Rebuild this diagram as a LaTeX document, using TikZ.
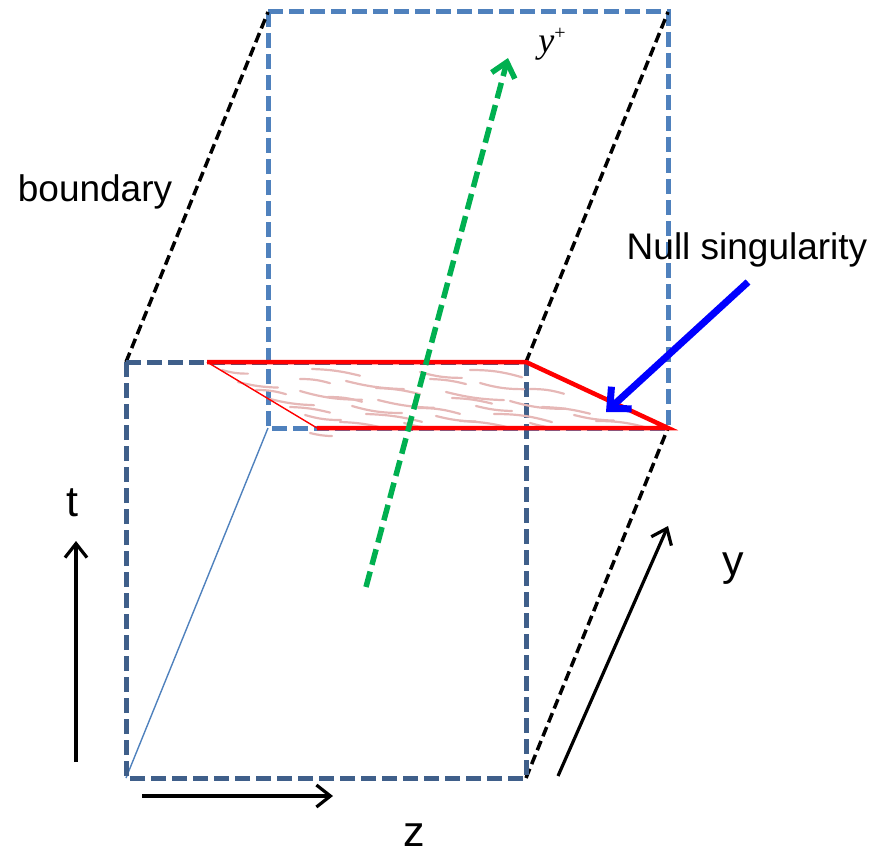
\documentclass[tikz,border=0pt]{standalone}
\usepackage{fontspec}
\setmainfont{Liberation Sans}
\newfontfamily\timesfont{Liberation Serif}
\usetikzlibrary{arrows.meta}

\definecolor{frontblue}{RGB}{63,95,138}
\definecolor{backblue}{RGB}{79,129,189}
\definecolor{nullred}{RGB}{255,0,0}
\definecolor{raygreen}{RGB}{0,176,80}
\definecolor{pointblue}{RGB}{0,0,255}
\definecolor{scribblepink}{RGB}{230,184,183}

\begin{document}
\begin{tikzpicture}[
    x=1pt, y=-1pt,
    lbl/.style    ={font=\fontsize{37}{42}\selectfont, inner sep=0pt},
    axlbl/.style  ={font=\fontsize{43}{48}\selectfont, inner sep=0pt},
    frontedge/.style={draw=frontblue, line width=5pt, dash pattern=on 15pt off 6pt},
    backedge/.style ={draw=backblue,  line width=5pt, dash pattern=on 15pt off 6pt},
    sideedge/.style ={draw=black, line width=3.5pt, dash pattern=on 10pt off 5pt},
    rededge/.style  ={draw=nullred, line width=4.5pt},
    scribble/.style ={draw=scribblepink, line width=2.2pt, line cap=round},
    axisarr/.style  ={-{Straight Barb[length=14pt,width=22pt]}, line width=3.2pt},
]
\useasboundingbox (0,0) rectangle (888,853);

% =========================================================
% Box corners: front face, back face, null plane
% =========================================================
\coordinate (F1) at (126,362);
\coordinate (F2) at (526,362);
\coordinate (F3) at (526,778);
\coordinate (F4) at (126,778);
\coordinate (B1) at (268,12);
\coordinate (B2) at (668,12);
\coordinate (B3) at (668,428);
\coordinate (B4) at (268,428);
\coordinate (P1) at (207,362);
\coordinate (P4) at (317,428);

% back face
\draw[backedge] (B1) -- (B2) -- (B3) -- (B4) -- cycle;

% side edges
\draw[sideedge] (F1) -- (B1);
\draw[sideedge] (F2) -- (B2);
\draw[sideedge] (F3) -- (B3);
\draw[draw=backblue, line width=1.4pt] (F4) -- (B4);

% front face
\draw[frontedge] (F1) -- (F2) -- (F3) -- (F4) -- cycle;

% =========================================================
% Null plane (hand-drawn shading)
% =========================================================
\foreach \sx/\sy/\sl/\bd in {
    222/370/26/8, 312/369/48/-6, 420/372/42/8, 470/370/52/-8,
    238/382/40/6, 300/379/30/-8, 346/381/58/6, 430/379/36/-6, 480/383/44/8,
    256/390/30/-8, 300/391/62/8, 376/388/44/-6, 446/392/58/6, 530/389/34/-8,
    270/399/44/6, 328/397/34/-8, 378/400/56/6, 452/398/40/-6, 510/401/56/8,
    290/407/40/-6, 352/406/50/8, 418/408/42/-8, 476/406/36/6, 542/407/48/-6,
    305/415/36/8, 366/414/56/-6, 436/416/40/6, 494/414/58/-8, 574/415/40/6,
    340/422/44/-6, 404/423/36/8, 460/421/52/-6, 530/423/42/8, 596/421/54/-8,
    310/433/22/6}
  \draw[scribble] (\sx,\sy) to[bend right=\bd] ++(\sl,0.14*\sl);

\draw[rededge] (P1) -- (F2) -- (B3) -- (P4);
\draw[draw=nullred, line width=1.4pt] (P1) -- (P4);

% =========================================================
% Light ray y^+ and labels
% =========================================================
\coordinate (G0) at (366,587);
\coordinate (G1) at (508,58);
\draw[draw=raygreen, line width=5.5pt, dash pattern=on 16pt off 7pt,
      -{Straight Barb[length=14pt,width=24pt]}] (G0) -- (G1);
\node[inner sep=0pt, font=\fontsize{36}{38}\selectfont\timesfont] (yplus) at (552,44)
    {\textit{y}\raisebox{13pt}{\fontsize{20}{22}\selectfont +}};

\node[lbl] (bnd)  at (95,192)  {boundary};
\node[lbl] (nsng) at (747,250) {Null singularity};

\coordinate (N0) at (748,282);
\coordinate (N1) at (606,412);
\draw[draw=pointblue, line width=7pt, -{Straight Barb[length=16pt,width=30pt]}] (N0) -- (N1);

% =========================================================
% Axes t, z, y
% =========================================================
\coordinate (t0) at (76,762);  \coordinate (t1) at (76,541);
\coordinate (z0) at (142,796); \coordinate (z1) at (333,796);
\coordinate (y0) at (558,776); \coordinate (y1) at (668,526);
\draw[axisarr] (t0) -- (t1);
\draw[axisarr] (z0) -- (z1);
\draw[axisarr] (y0) -- (y1);

\node[axlbl] (tlbl) at (72,503)  {t};
\node[axlbl] (zlbl) at (414,835) {z};
\node[axlbl] (ylbl) at (733,569) {y};

\end{tikzpicture}
\end{document}
